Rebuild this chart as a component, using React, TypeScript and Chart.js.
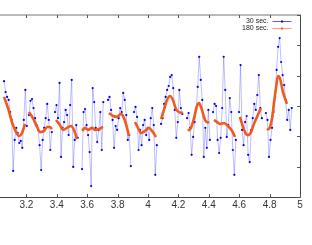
import { useEffect, useRef } from 'react';
import { Chart, registerables } from 'chart.js';
Chart.register(...registerables);

// ---- tick labels (the 3.0 tick sits just off the left edge of the picture) ----
const xTickValues = [3.2, 3.4, 3.6, 3.8, 4, 4.2, 4.4, 4.6, 4.8, 5];
const xTickLabels = ['3.2', '3.4', '3.6', '3.8', '4', '4.2', '4.4', '4.6', '4.8', '5'];
const yTickValues = [0, 1, 2, 3, 4, 5, 6];

// ---- series ----
const seriesLabels = ['30 sec.', '180 sec.'];
const seriesColors = ['#0000ee', '#f25a1c'];
const legendLineColors = ['#5a5aff', '#ffa070'];

// 30-second samples: segment start times and the sampled values
const sampleStep30 = 0.01;
const blueStarts = [3.053, 3.217, 3.388, 3.566, 3.737, 3.908, 4.086, 4.257, 4.428, 4.599, 4.776];
const blueSeg1 = [3.82, 3.46, 3.30, 3.20, 2.80, 2.54, 0.86, 1.88, 2.28, 2.11, 1.78, 1.85, 1.62, 2.54, 3.53, 2.34];
const blueSeg2 = [2.70, 3.17, 3.23, 2.93, 2.60, 2.37, 2.21, 1.71, 0.89, 1.88, 2.28, 2.60, 3.07, 2.54, 1.55, 2.14];
const blueSeg3 = [2.80, 3.03, 2.60, 3.76, 1.32, 2.28, 2.47, 2.87, 2.70, 2.04, 3.03, 3.86, 0.99, 1.88, 2.37, 1.95];
const blueSeg4 = [0.92, 2.80, 2.90, 2.37, 2.04, 1.48, 0.36, 3.59, 3.13, 2.28, 1.81, 2.21, 2.80, 1.55, 3.13];
const blueSeg5 = [3.20, 3.30, 2.87, 2.54, 1.62, 2.34, 2.21, 2.60, 2.93, 2.80, 3.43, 3.20, 2.70, 1.88, 2.04, 1.02];
const blueSeg6 = [2.80, 2.97, 2.64, 1.55, 2.21, 1.71, 2.37, 2.54, 2.04, 2.28, 1.88, 2.60, 2.93, 2.37, 0.73, 1.71];
const blueSeg7 = [2.41, 2.60, 3.07, 3.30, 3.53, 3.66, 3.96, 4.02, 3.59, 2.87, 1.95, 2.47, 3.53, 2.93, 2.74];
const blueSeg8 = [2.60, 2.77, 2.28, 1.39, 1.98, 2.47, 2.87, 3.63, 4.62, 3.86, 3.20, 1.32, 2.28, 1.62, 2.87, 1.88];
const blueSeg9 = [2.80, 3.07, 3.00, 1.88, 1.45, 1.95, 2.93, 4.62, 3.53, 1.98, 2.37, 3.26, 2.80, 1.55, 0.73, 1.88];
const blueSeg10 = [2.80, 4.35, 2.21, 1.71, 2.47, 2.67, 1.39, 1.15, 2.21, 2.60, 3.07, 2.87, 3.36, 4.02, 2.93, 2.60];
const blueSeg11 = [2.77, 2.54, 1.32, 1.88, 2.28, 2.80, 3.30, 4.19, 4.95, 5.24, 4.45, 4.02, 3.69, 3.20, 2.54, 2.87, 2.21, 2.93];
const blueSegments = [blueSeg1, blueSeg2, blueSeg3, blueSeg4, blueSeg5, blueSeg6, blueSeg7, blueSeg8, blueSeg9, blueSeg10, blueSeg11];

// 180-second series, per segment
const orangeX = [
  [3.053, 3.079, 3.105, 3.132, 3.151, 3.171, 3.191],
  [3.217, 3.243, 3.270, 3.289, 3.316, 3.336, 3.355, 3.368],
  [3.395, 3.421, 3.441, 3.467, 3.493, 3.513, 3.533],
  [3.566, 3.586, 3.605, 3.632, 3.651, 3.678, 3.704],
  [3.743, 3.770, 3.796, 3.822, 3.842, 3.862, 3.875],
  [3.914, 3.934, 3.954, 3.980, 4.007, 4.026, 4.053],
  [4.086, 4.105, 4.125, 4.145, 4.164, 4.184, 4.204, 4.230],
  [4.263, 4.283, 4.303, 4.322, 4.336, 4.355, 4.375, 4.401],
  [4.434, 4.454, 4.474, 4.500, 4.526, 4.553, 4.572],
  [4.605, 4.625, 4.645, 4.658, 4.678, 4.697, 4.717, 4.743],
  [4.783, 4.803, 4.816, 4.829, 4.842, 4.855, 4.868, 4.888, 4.914],
];
const orangeY = [
  [3.30, 2.93, 2.47, 2.14, 2.01, 2.11, 2.41],
  [2.80, 2.60, 2.31, 2.14, 2.18, 2.31, 2.31, 2.24],
  [2.54, 2.37, 2.21, 2.28, 2.34, 2.21, 1.91],
  [2.18, 2.28, 2.21, 2.28, 2.21, 2.24, 2.31],
  [2.77, 2.67, 2.64, 2.74, 2.60, 2.28, 2.01],
  [2.47, 2.28, 2.11, 2.18, 2.28, 2.18, 1.98],
  [2.57, 2.87, 3.20, 3.33, 3.20, 2.90, 2.80, 2.77],
  [2.18, 2.28, 2.60, 3.00, 3.10, 2.87, 2.54, 2.44],
  [2.54, 2.47, 2.41, 2.44, 2.34, 2.18, 1.98],
  [2.64, 2.31, 2.08, 2.04, 2.14, 2.41, 2.64, 2.93],
  [2.21, 2.31, 2.60, 3.10, 3.59, 3.99, 3.92, 3.46, 3.07],
];

const FONT = '"Liberation Sans", Arial, Helvetica, sans-serif';

function buildBlue() {
  const pts: { x: number; y: number | null }[] = [];
  blueSegments.forEach((seg, i) => {
    if (i > 0) pts.push({ x: blueStarts[i] - 0.004, y: null });
    seg.forEach((v, j) => pts.push({ x: blueStarts[i] + j * sampleStep30, y: v }));
  });
  return pts;
}

function buildOrange() {
  const pts: { x: number; y: number | null }[] = [];
  orangeX.forEach((xs, i) => {
    if (i > 0) pts.push({ x: xs[0] - 0.004, y: null });
    xs.forEach((x, j) => pts.push({ x, y: orangeY[i][j] }));
  });
  return pts;
}

const framePlugin = {
  id: 'frame',
  afterDatasetsDraw(chart: any) {
    const { ctx, chartArea, scales } = chart;
    const { left, right, top, bottom } = chartArea;
    ctx.save();
    ctx.lineWidth = 1;
    // top border
    ctx.strokeStyle = '#777';
    ctx.beginPath();
    ctx.moveTo(left, top);
    ctx.lineTo(right + 1, top);
    ctx.stroke();
    // bottom + right border
    ctx.strokeStyle = '#444';
    ctx.beginPath();
    ctx.moveTo(left, bottom + 0.5);
    ctx.lineTo(right + 0.5, bottom + 0.5);
    ctx.lineTo(right + 0.5, top);
    ctx.stroke();
    // inward ticks
    ctx.strokeStyle = '#555';
    ctx.beginPath();
    xTickValues.forEach((v) => {
      const px = Math.round(scales.x.getPixelForValue(v)) + 0.5;
      ctx.moveTo(px, bottom);
      ctx.lineTo(px, bottom - 3);
      ctx.moveTo(px, top);
      ctx.lineTo(px, top + 3);
    });
    yTickValues.forEach((v) => {
      const py = Math.round(scales.y.getPixelForValue(v)) + 0.5;
      ctx.moveTo(right, py);
      ctx.lineTo(right - 3, py);
    });
    ctx.stroke();
    ctx.restore();
  },
};

const legendPlugin = {
  id: 'insideLegend',
  afterDraw(chart: any) {
    const { ctx, chartArea } = chart;
    const { right, top } = chartArea;
    ctx.save();
    ctx.font = '7px ' + FONT;
    ctx.textAlign = 'right';
    ctx.textBaseline = 'middle';
    chart.data.datasets.forEach((d: any, i: number) => {
      const yy = top + 6.5 + i * 7;
      ctx.fillStyle = '#222';
      ctx.fillText(d.label, right - 31.5, yy);
      ctx.strokeStyle = legendLineColors[i];
      ctx.lineWidth = 1;
      ctx.beginPath();
      ctx.moveTo(right - 27.5, yy);
      ctx.lineTo(right - 8.5, yy);
      ctx.stroke();
      ctx.fillStyle = seriesColors[i];
      ctx.fillRect(right - 19, yy - 1, 2, 2);
    });
    ctx.restore();
  },
};

export default function App() {
  const ref = useRef<HTMLCanvasElement | null>(null);
  useEffect(() => {
    if (!ref.current) return;
    const chart = new Chart(ref.current, {
      type: 'line',
      data: {
        datasets: [
          {
            label: seriesLabels[0],
            data: buildBlue() as any,
            borderColor: 'rgba(70,70,255,0.35)',
            borderWidth: 1,
            pointRadius: 1.1,
            pointBackgroundColor: seriesColors[0],
            pointBorderColor: seriesColors[0],
            pointBorderWidth: 0,
            tension: 0,
            spanGaps: false,
            order: 2,
          },
          {
            label: seriesLabels[1],
            data: buildOrange() as any,
            borderColor: seriesColors[1],
            borderWidth: 2.6,
            pointRadius: 0,
            cubicInterpolationMode: 'monotone',
            spanGaps: false,
            order: 1,
          },
        ],
      },
      options: {
        animation: false,
        responsive: false,
        devicePixelRatio: 1,
        events: [],
        layout: { autoPadding: false, padding: { top: 15, left: 0, right: 0, bottom: 0 } },
        plugins: { legend: { display: false }, tooltip: { enabled: false } },
        scales: {
          x: {
            type: 'linear',
            min: 3,
            max: 5,
            grid: { display: false, drawTicks: false },
            border: { display: false },
            afterBuildTicks: (s: any) => {
              s.ticks = xTickValues.map((v) => ({ value: v }));
            },
            afterFit: (s: any) => {
              s.height = 48;
              s.paddingLeft = 0;
              s.paddingRight = 0;
            },
            ticks: {
              autoSkip: false,
              maxRotation: 0,
              padding: 2,
              color: '#333',
              font: { family: FONT, size: 10 },
              callback: (_v: any, i: number) => xTickLabels[i],
            },
          },
          y: {
            type: 'linear',
            position: 'right',
            min: 0,
            max: 6,
            grid: { display: false, drawTicks: false },
            border: { display: false },
            afterBuildTicks: (s: any) => {
              s.ticks = yTickValues.map((v) => ({ value: v }));
            },
            afterFit: (s: any) => {
              s.width = 12;
              s.paddingTop = 0;
              s.paddingBottom = 0;
            },
            ticks: { display: false },
          },
        },
      },
      plugins: [framePlugin, legendPlugin],
    });
    return () => chart.destroy();
  }, []);
  return (
    <div style={{ position: 'fixed', left: -4, top: 0, width: 316, height: 245 }}>
      <canvas ref={ref} width={316} height={245} style={{ display: 'block' }} />
    </div>
  );
}
